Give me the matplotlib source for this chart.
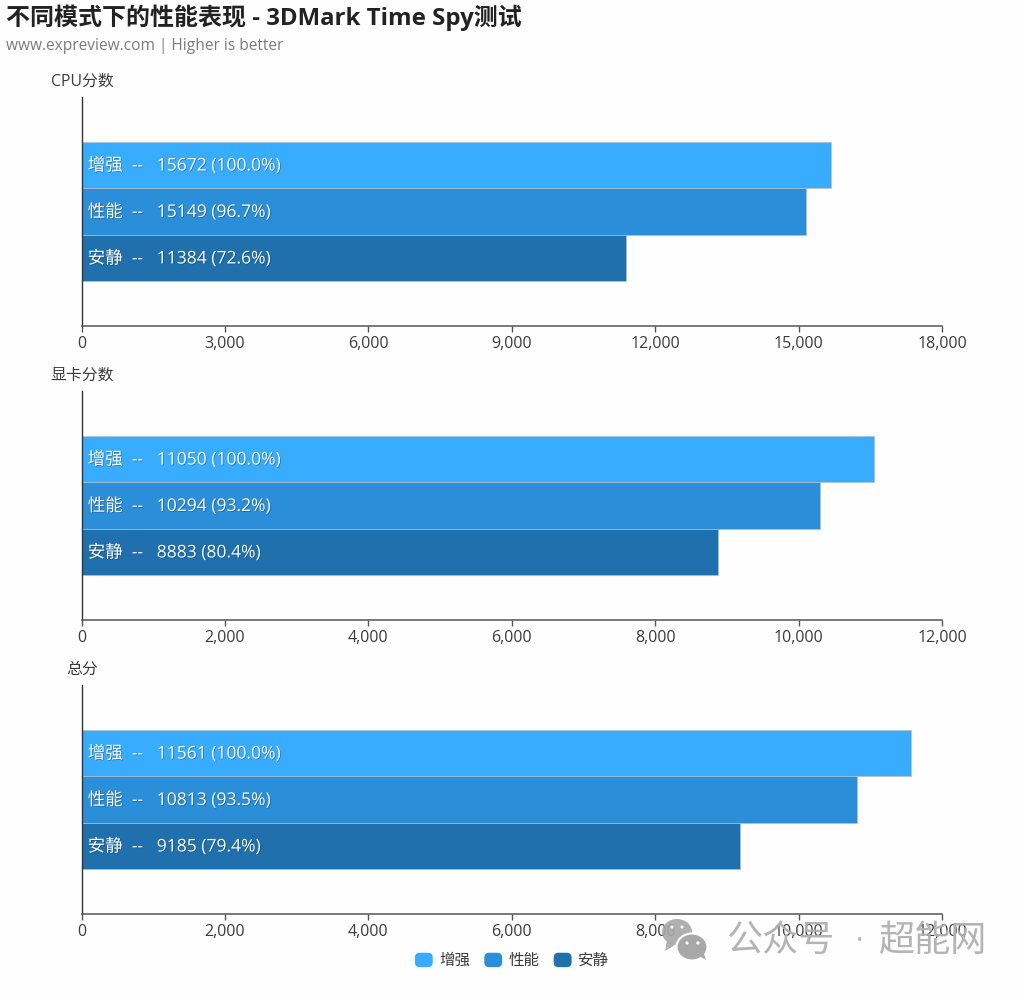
import matplotlib
matplotlib.use('Agg')
import matplotlib.pyplot as plt
import matplotlib.patheffects as pe
from matplotlib.legend_handler import HandlerPatch
from matplotlib.patches import FancyBboxPatch, Patch, Ellipse, Polygon, Circle

plt.rcParams['font.family'] = ['Open Sans', 'Noto Sans CJK SC', 'DejaVu Sans']

W, H = 1024, 996

modos = ['增强', '性能', '安静']
colores = ['#38acff', '#2b8ed8', '#1f70ad']
paneles = ['CPU分数', '显卡分数', '总分']
cpu = [15672, 15149, 11384]
cpu_pct = ['100.0%', '96.7%', '72.6%']
gpu = [11050, 10294, 8883]
gpu_pct = ['100.0%', '93.2%', '80.4%']
total = [11561, 10813, 9185]
total_pct = ['100.0%', '93.5%', '79.4%']
xmax = [18000, 12000, 12000]
xpaso = [3000, 2000, 2000]


def caja(x0, y0, x1, y1):
    return [x0 / W, 1 - y1 / H, (x1 - x0) / W, (y1 - y0) / H]


def fx(x):
    return x / W


def fy(y):
    return 1 - y / H


fig = plt.figure(figsize=(W / 100, H / 100), dpi=100, facecolor='#fefefe')

fig.text(fx(6), fy(18), '不同模式下的性能表现 - 3DMark Time Spy测试', fontsize=17.25,
         fontweight='bold', color='#222222', va='center', ha='left')
fig.text(fx(6), fy(46), 'www.expreview.com | Higher is better', fontsize=11.2,
         color='#7c7c7c', va='center', ha='left')

datos = [cpu, gpu, total]
pcts = [cpu_pct, gpu_pct, total_pct]
tops = [97, 391, 685]

for i in range(3):
    top = tops[i]
    ax = fig.add_axes(caja(81.5, top, 942, top + 229))
    ax.set_facecolor('none')
    ax.set_xlim(0, xmax[i])
    ax.set_ylim(0, 1)
    alto = 46.5 / 229
    posiciones = [0.5 + alto, 0.5, 0.5 - alto]
    barras = ax.barh(posiciones, datos[i], height=alto, color=colores,
                     edgecolor='#b4c0c9', linewidth=0.5, zorder=2)
    for j in range(3):
        ax.annotate(f'{modos[j]}  --   {datos[i][j]} ({pcts[i][j]})', (0, posiciones[j]),
                    xytext=(4.5, -0.5), textcoords='offset points', color='white',
                    fontsize=12.6, va='center', ha='left', zorder=4,
                    path_effects=[pe.withSimplePatchShadow(offset=(0.5, -0.5), shadow_rgbFace='#10314c', alpha=0.5)])

    ax.spines['top'].set_visible(False)
    ax.spines['right'].set_visible(False)
    ax.spines['left'].set_color('#333333')
    ax.spines['bottom'].set_color('#555555')
    ax.spines['left'].set_linewidth(1)
    ax.spines['bottom'].set_linewidth(1.1)
    ax.set_yticks([])
    ticks = list(range(0, xmax[i] + 1, xpaso[i]))
    ax.set_xticks(ticks)
    ax.set_xticklabels([f'{t:,}' for t in ticks])
    ax.tick_params(axis='x', length=4, width=1, color='#555555', labelcolor='#3c3c3c',
                   labelsize=11.5, pad=3.2)
    fig.text(fx(82), fy(top - 15.5), paneles[i], fontsize=11.4, color='#3c3c3c',
             va='center', ha='center')


def pastilla(legend, orig_handle, xdescent, ydescent, width, height, fontsize):
    return FancyBboxPatch((-xdescent + 2, -ydescent + 2), width - 4, height - 4,
                          boxstyle='round,pad=2,rounding_size=3.5')


handles = [Patch(facecolor=c, label=m) for c, m in zip(colores, modos)]
fig.legend(handles=handles, loc='center', bbox_to_anchor=(fx(512), fy(961)), ncol=3, frameon=False,
           fontsize=11.2, labelcolor='#3c3c3c', handlelength=1.15, handleheight=1.05,
           handletextpad=0.42, columnspacing=0.9, borderpad=0,
           handler_map={Patch: HandlerPatch(patch_func=pastilla)})

# marca de agua
capa = fig.add_axes([0, 0, 1, 1], facecolor='none')
capa.set_xlim(0, W)
capa.set_ylim(H, 0)
capa.axis('off')
gris = '#b0b0b0'
capa.add_patch(Ellipse((677, 932), 30, 26, facecolor='#a8a8a8', edgecolor='none', alpha=0.9, zorder=5))
capa.add_patch(Polygon([(667, 941), (665, 951), (675, 945)], facecolor='#a8a8a8', edgecolor='none', alpha=0.9, zorder=5))
capa.add_patch(Ellipse((692, 947), 31, 27, facecolor='#a8a8a8', edgecolor='white', linewidth=1.5, zorder=6))
capa.add_patch(Polygon([(699, 956), (706, 960), (703, 951)], facecolor='#a8a8a8', edgecolor='none', zorder=6))
for cx in (687, 698):
    capa.add_patch(Circle((cx, 943), 1.6, facecolor='white', edgecolor='none', zorder=7))
for cx in (672, 682):
    capa.add_patch(Circle((cx, 927), 1.5, facecolor='white', edgecolor='none', zorder=7))
capa.text(726, 942, '公众号', fontsize=26, color=gris, va='center', ha='left', alpha=0.95, zorder=6)
capa.text(860, 942, '·', fontsize=20, color=gris, va='center', ha='center', alpha=0.95, zorder=6)
capa.text(878, 942, '超能网', fontsize=26, color=gris, va='center', ha='left', alpha=0.95, zorder=6)

fig.savefig('out.png', dpi=100, facecolor=fig.get_facecolor())
